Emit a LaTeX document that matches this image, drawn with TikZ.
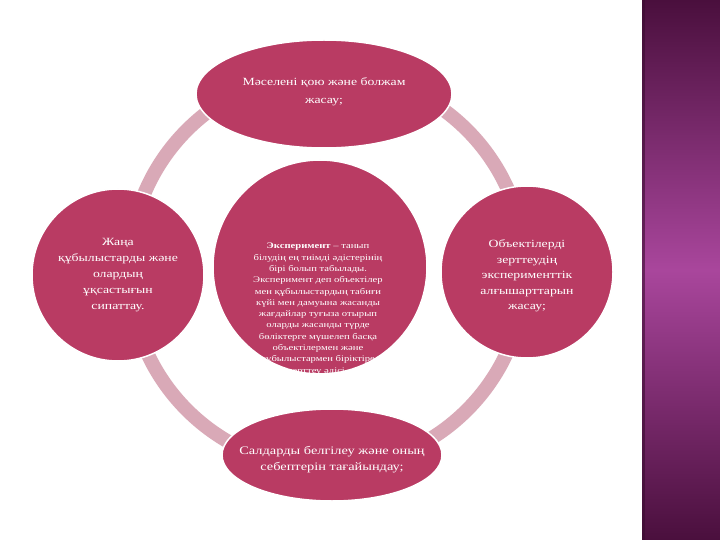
\documentclass[tikz,border=0pt]{standalone}
\usepackage{fontspec}
\setmainfont{Liberation Serif}[FakeStretch=1.25]
\usetikzlibrary{shapes.geometric}

\definecolor{bubbleRed}{HTML}{B93B63}
\definecolor{ringPink}{HTML}{D9A9B7}
\definecolor{panelDark}{HTML}{4A0F3D}
\definecolor{panelMid}{HTML}{A9469C}

\tikzset{
	bubble/.style={fill=bubbleRed, draw=white, line width=1.5pt, inner sep=0pt},
	bubbletext/.style={text=white, align=center, inner sep=0pt}
}

\begin{document}
\begin{tikzpicture}[x=1pt, y=-1pt]
		\useasboundingbox (0,0) rectangle (720,540);
		\fill[white] (0,0) rectangle (720,540);
		% side panel
		\shade[top color=panelDark, bottom color=panelDark, middle color=panelMid] (642,0) rectangle (720,540);
		\fill[panelDark!80!black, opacity=0.6] (642,0) rectangle (645,540);
		% cycle ring
		\draw[ringPink, line width=14pt] (327,270) circle (198);
		% nodes
		\node[bubble, ellipse, minimum width=256pt, minimum height=108pt] (problem) at (324,94) {};
		\node[bubble, circle, minimum size=172pt] (phenomena) at (118,275) {};
		\node[bubble, circle, minimum size=172pt] (objects) at (527,272) {};
		\node[bubble, ellipse, minimum width=220pt, minimum height=92pt] (effects) at (332,455) {};
		\node[bubble, circle, minimum size=214pt] (experiment) at (320,267) {};
		% texts
		\node[bubbletext, font=\fontsize{11}{18}\selectfont] (problemtext) at ([yshift=2pt]problem.center) {Мәселені қою және болжам\\жасау;};
		\node[bubbletext, font=\fontsize{11}{16}\selectfont] (phenomenatext) at (phenomena.center) {Жаңа\\құбылыстарды және\\олардың\\ұқсастығын\\сипаттау.};
		\node[bubbletext, font=\fontsize{11}{15.5}\selectfont] (objectstext) at ([yshift=-4pt]objects.center) {Объектілерді\\зерттеудің\\эксперименттік\\алғышарттарын\\жасау;};
		\node[bubbletext, font=\fontsize{11.5}{16}\selectfont] (effectstext) at ([yshift=-5pt]effects.center) {Салдарды белгілеу және оның\\себептерін тағайындау;};
		\node[bubbletext, anchor=north, font=\fontsize{8.5}{11.3}\selectfont] (experimenttext) at (318,243) {\textbf{Эксперимент} – танып\\білудің ең тиімді әдістерінің\\бірі болып табылады.\\Эксперимент деп объектілер\\мен құбылыстардың табиғи\\күйі мен дамуына жасанды\\жағдайлар туғыза отырып\\оларды жасанды түрде\\бөліктерге мүшелеп басқа\\объектілермен және\\құбылыстармен біріктіре\\зерттеу әдісі.};
	\end{tikzpicture}
\end{document}
